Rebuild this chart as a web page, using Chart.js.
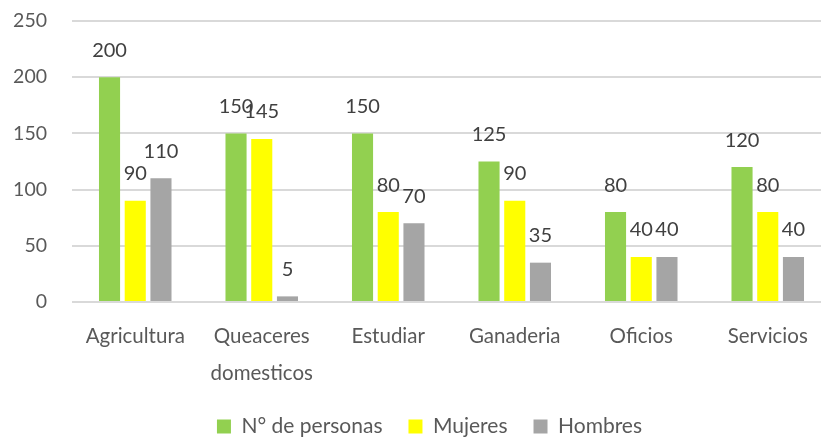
<!DOCTYPE html>
<html>
<head>
<meta charset="utf-8">
<script src="https://cdn.jsdelivr.net/npm/chart.js@4.4.1/dist/chart.umd.min.js"></script>
<style>
  html, body { margin: 0; padding: 0; background: #ffffff; overflow: hidden; }
  #wrap { width: 860px; height: 441px; position: relative; }
</style>
</head>
<body>
<div id="wrap"><canvas id="c" width="860" height="441"></canvas></div>
<script>
const categories = ['Agricultura', ['Queaceres', 'domesticos'], 'Estudiar', 'Ganaderia', 'Oficios', 'Servicios'];
const seriesNames = ['N° de personas', 'Mujeres', 'Hombres'];
const personas = [200, 150, 150, 125, 80, 120];
const mujeres = [90, 145, 80, 90, 40, 80];
const hombres = [110, 5, 70, 35, 40, 40];
const yTicks = [0, 50, 100, 150, 200, 250];

const FONT = 'Lato';
const FS = 19.5;
const PLOT_BOTTOM = 302;

const dataLabels = {
  id: 'dataLabels',
  afterDatasetsDraw(chart) {
    const ctx = chart.ctx;
    ctx.save();
    ctx.font = '20px ' + FONT;
    ctx.fillStyle = '#404040';
    ctx.textAlign = 'center';
    ctx.textBaseline = 'middle';
    chart.data.datasets.forEach((ds, i) => {
      const meta = chart.getDatasetMeta(i);
      meta.data.forEach((el, j) => {
        ctx.fillText(String(ds.data[j]), el.x, el.y - 27);
      });
    });
    ctx.restore();
  }
};

const legendShift = {
  id: 'legendShift',
  afterLayout(chart) {
    const lg = chart.legend;
    if (!lg) return;
    lg.left += 14; lg.right += 14;
    lg.top += 6; lg.bottom += 6;
  }
};

new Chart(document.getElementById('c'), {
  type: 'bar',
  data: {
    labels: categories,
    datasets: [
      { label: seriesNames[0], data: personas, backgroundColor: '#92D050' },
      { label: seriesNames[1], data: mujeres, backgroundColor: '#FFFF00' },
      { label: seriesNames[2], data: hombres, backgroundColor: '#A5A5A5' }
    ]
  },
  options: {
    responsive: false,
    animation: false,
    devicePixelRatio: 1,
    layout: { padding: { top: 21, right: 29, left: 0, bottom: 0 } },
    datasets: { bar: { categoryPercentage: 0.61, barPercentage: 0.82 } },
    scales: {
      x: {
        grid: { display: false, drawTicks: false },
        border: { display: false },
        ticks: {
          color: '#595959',
          font: { family: FONT, size: 20.5, lineHeight: 1.85 },
          padding: 15,
          maxRotation: 0, autoSkip: false
        },
        afterFit(s) {
          const lg = s.chart.legend;
          const lh = lg ? lg.height : 0;
          s.height = 441 - lh - PLOT_BOTTOM;
        }
      },
      y: {
        min: 0, max: 250,
        afterBuildTicks(s) { s.ticks = yTicks.map(v => ({ value: v })); },
        grid: { color: '#D9D9D9', lineWidth: 2, drawTicks: false },
        border: { display: false },
        ticks: {
          color: '#595959',
          font: { family: FONT, size: FS },
          padding: 25
        },
        afterFit(s) { s.width = 72; s.paddingTop = 0; s.paddingBottom = 0; }
      }
    },
    plugins: {
      legend: {
        position: 'bottom',
        labels: {
          color: '#595959',
          font: { family: FONT, size: 21 },
          boxWidth: 14, boxHeight: 14,
          padding: 26
        }
      },
      tooltip: { enabled: false }
    }
  },
  plugins: [dataLabels, legendShift]
});
</script>
</body>
</html>
